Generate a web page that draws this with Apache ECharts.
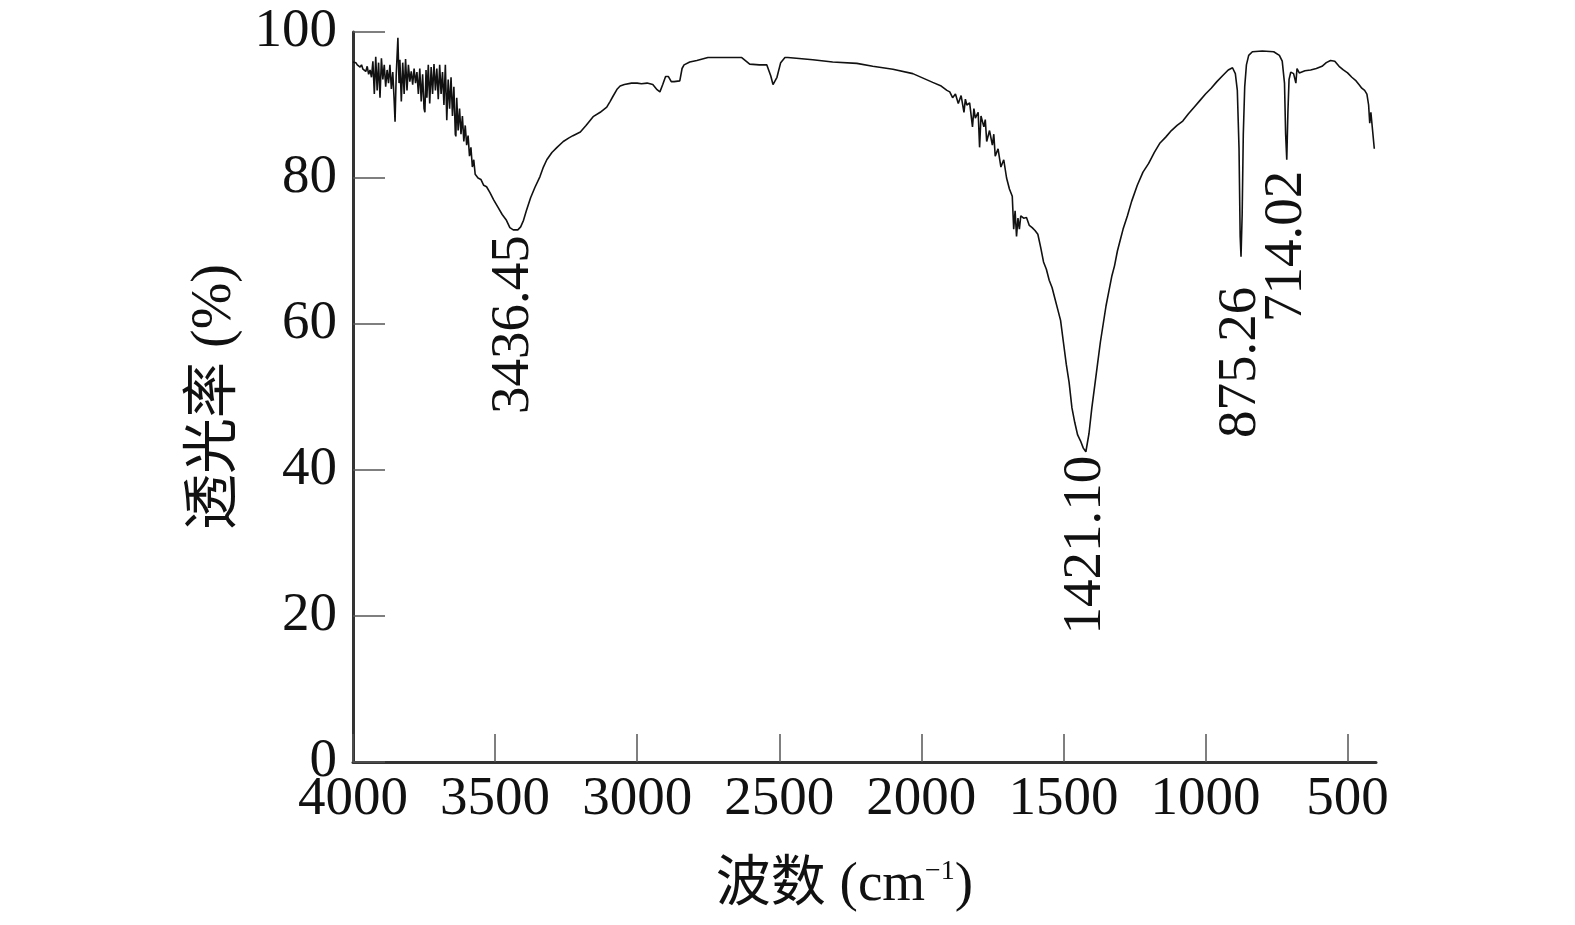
<!DOCTYPE html>
<html>
<head>
<meta charset="utf-8">
<script src="https://cdn.jsdelivr.net/npm/echarts@6/dist/echarts.min.js"></script>
<style>
html,body{margin:0;padding:0;background:#fff;}
#chart{width:1575px;height:925px;}
</style>
</head>
<body>
<div id="chart"></div>
<script>
// Wavenumber (cm^-1)
const wavenumbers = [
4000,3995,3990,3985,3980,3975,3970,3965,3960,3955,3950,3945,3940,3935,3930,3925,3920,3915,3910,3905,
3900,3895,3890,3885,3880,3875,3870,3865,3860,3855,3852,3848,3842,3838,3835,3830,3825,3820,3815,3810,
3805,3800,3795,3790,3785,3780,3775,3770,3765,3760,3755,3750,3747,3743,3740,3735,3730,3725,3720,3715,
3710,3705,3700,3695,3690,3685,3680,3675,3670,3665,3660,3655,3650,3645,3640,3638,3635,3630,3625,3620,
3615,3610,3605,3600,3595,3590,3585,3580,3575,3570,3560,3550,3540,3530,3518,3505,3490,3475,3460,3448,
3436,3420,3410,3400,3390,3375,3360,3342,3330,3318,3300,3282,3260,3240,3226,3200,3180,3155,3130,3107,
3095,3085,3070,3060,3045,3020,3000,2985,2965,2945,2930,2920,2910,2900,2890,2880,2870,2850,2842,2835,
2815,2790,2751,2700,2632,2604,2570,2544,2530,2522,2516,2508,2495,2480,2470,2440,2382,2312,2227,2171,
2100,2030,1960,1930,1910,1900,1890,1880,1870,1860,1850,1845,1840,1830,1820,1815,1810,1800,1795,1790,
1780,1775,1770,1760,1750,1745,1740,1730,1720,1710,1700,1690,1680,1675,1670,1665,1660,1655,1650,1640,
1630,1620,1610,1600,1590,1580,1570,1560,1550,1540,1530,1520,1510,1500,1490,1480,1470,1460,1450,1440,
1430,1421,1410,1400,1390,1380,1370,1360,1350,1340,1330,1320,1310,1300,1290,1275,1260,1240,1220,1200,
1180,1160,1140,1120,1100,1080,1060,1040,1020,1000,980,960,940,920,905,895,888,882,878,875,
871,867,862,856,848,835,800,760,740,730,722,718,714,710,706,700,690,682,678,670,
650,630,610,590,575,560,545,530,515,500,485,470,460,450,440,432,426,422,418,412,
406
];
// Transmittance (%)
const transmittance = [
95.9,95.7,95.8,95.5,95.4,95.2,95.5,94.9,95.0,94.6,95.3,94.2,94.8,93.8,96.0,91.5,96.6,92.0,95.8,91.0,
96.4,93.5,95.5,92.5,94.8,93.0,95.5,92.2,94.5,90.5,87.7,94.0,99.2,93.0,96.2,90.5,95.8,91.5,96.3,92.0,
95.5,93.2,94.6,92.8,95.0,93.0,94.5,91.5,95.0,90.5,94.2,89.5,89.0,94.8,91.0,95.5,90.2,95.2,91.5,95.6,
92.0,95.0,90.8,95.5,91.5,94.5,90.0,95.5,87.9,93.5,89.5,93.8,88.5,92.5,86.0,85.7,91.0,86.5,89.5,86.0,
88.5,85.0,87.2,84.5,85.8,83.0,84.2,81.5,82.5,80.5,80.0,79.8,79.0,78.8,78.0,77.0,76.0,75.0,74.2,73.2,
72.9,72.9,73.3,74.2,75.5,77.3,78.7,80.2,81.5,82.5,83.5,84.2,85.0,85.5,85.8,86.3,87.2,88.4,89.0,89.7,
90.5,91.2,92.2,92.6,92.8,93.0,93.0,92.9,93.0,92.8,92.1,91.8,92.8,93.9,93.9,93.2,93.2,93.3,95.0,95.5,
95.9,96.1,96.5,96.5,96.5,95.6,95.5,95.5,94.0,92.8,92.6,93.8,95.8,96.5,96.5,96.4,96.2,95.9,95.7,95.3,
94.9,94.3,93.1,92.6,92.0,91.8,91.0,91.5,90.2,91.3,89.0,90.8,90.0,90.3,87.0,89.5,88.2,89.0,84.2,88.5,
87.0,88.0,85.0,86.5,84.5,86.0,83.0,84.0,81.5,82.5,80.0,78.5,77.5,73.0,75.5,72.0,74.5,73.0,74.8,74.5,
74.6,73.5,73.2,72.8,72.3,70.5,68.5,67.5,66.0,65.0,63.5,62.0,60.5,57.5,54.5,52.0,48.5,46.5,44.8,44.0,
43.0,42.5,45.0,48.5,51.5,54.5,57.5,60.0,62.5,64.5,66.5,68.0,70.0,71.5,73.0,74.8,76.8,79.0,80.8,82.0,
83.5,84.8,85.6,86.5,87.2,87.8,88.8,89.7,90.6,91.5,92.3,93.2,94.0,94.8,95.1,94.3,92.0,84.0,72.0,69.2,
75.0,86.0,92.5,95.5,96.8,97.3,97.4,97.3,96.8,96.0,93.0,86.0,82.5,89.0,93.5,94.5,94.3,93.0,95.0,94.4,
94.7,94.8,95.0,95.3,95.8,96.1,96.0,95.3,94.8,94.4,93.8,93.3,92.8,92.3,92.0,91.5,90.0,87.5,89.0,86.5,
84.0
];
// Peak annotations
const peakLabels = ['3436.45', '1421.10', '875.26', '714.02'];
const peakX = [3436.45, 1421.10, 875.26, 714.02];
const peakY = [72.7, 42.5, 69.2, 82.5];
// Axis ticks
const xTickValues = [4000, 3500, 3000, 2500, 2000, 1500, 1000, 500];
const yMin = 0, yMax = 100, yStep = 20;

const lineData = wavenumbers.map((w, i) => [w, transmittance[i]]);
const labelGaps = [4, 6, 8, 4];
const labelShifts = [0, 2, -22, -7];
const peakData = peakX.map((x, i) => ({
  value: [x, peakY[i]],
  label: { distance: labelGaps[i], offset: [labelShifts[i], 0] }
}));

const serif = "'Liberation Serif', 'Times New Roman', 'Noto Sans CJK SC', serif";
const chart = echarts.init(document.getElementById('chart'), null, { renderer: 'canvas' });
chart.setOption({
  backgroundColor: '#ffffff',
  animation: false,
  grid: { left: 353, right: 199, top: 32, bottom: 163 },
  xAxis: {
    type: 'value', min: 400, max: 4000, inverse: true,
    name: '波数 (cm{sup|−1})',
    nameLocation: 'middle', nameGap: 96,
    nameTextStyle: {
      fontFamily: serif, fontSize: 55, color: '#111', padding: [0, 40, 0, 0],
      rich: { sup: { fontFamily: serif, fontSize: 28, color: '#111', verticalAlign: 'top', padding: [0, 0, 24, 0] } }
    },
    axisLine: { show: true, lineStyle: { color: '#333', width: 3 } },
    axisTick: { show: true, inside: true, length: 28, customValues: xTickValues, lineStyle: { color: '#555', width: 1.5 } },
    axisLabel: { customValues: xTickValues, fontFamily: serif, fontSize: 55, color: '#111', margin: 10, formatter: (v) => String(v) },
    splitLine: { show: false }
  },
  yAxis: {
    type: 'value', min: yMin, max: yMax, interval: yStep,
    name: '透光率 (%)', nameLocation: 'middle', nameGap: 110, nameRotate: 90,
    nameTextStyle: { fontFamily: serif, fontSize: 56, color: '#111' },
    axisLine: { show: true, lineStyle: { color: '#333', width: 3 } },
    axisTick: { show: true, inside: true, length: 32, lineStyle: { color: '#555', width: 1.5 } },
    axisLabel: { fontFamily: serif, fontSize: 55, color: '#111', margin: 16 },
    splitLine: { show: false }
  },
  series: [
    {
      type: 'line', data: lineData, showSymbol: false, symbol: 'none',
      lineStyle: { color: '#111', width: 1.6 }, z: 3
    },
    {
      type: 'scatter', data: peakData, symbolSize: 0, z: 4,
      itemStyle: { opacity: 1 },
      label: {
        show: true, position: 'bottom', rotate: 90, align: 'right', verticalAlign: 'middle',
        fontFamily: serif, fontSize: 55, color: '#111',
        formatter: (p) => peakLabels[p.dataIndex]
      }
    }
  ]
});
</script>
</body>
</html>
